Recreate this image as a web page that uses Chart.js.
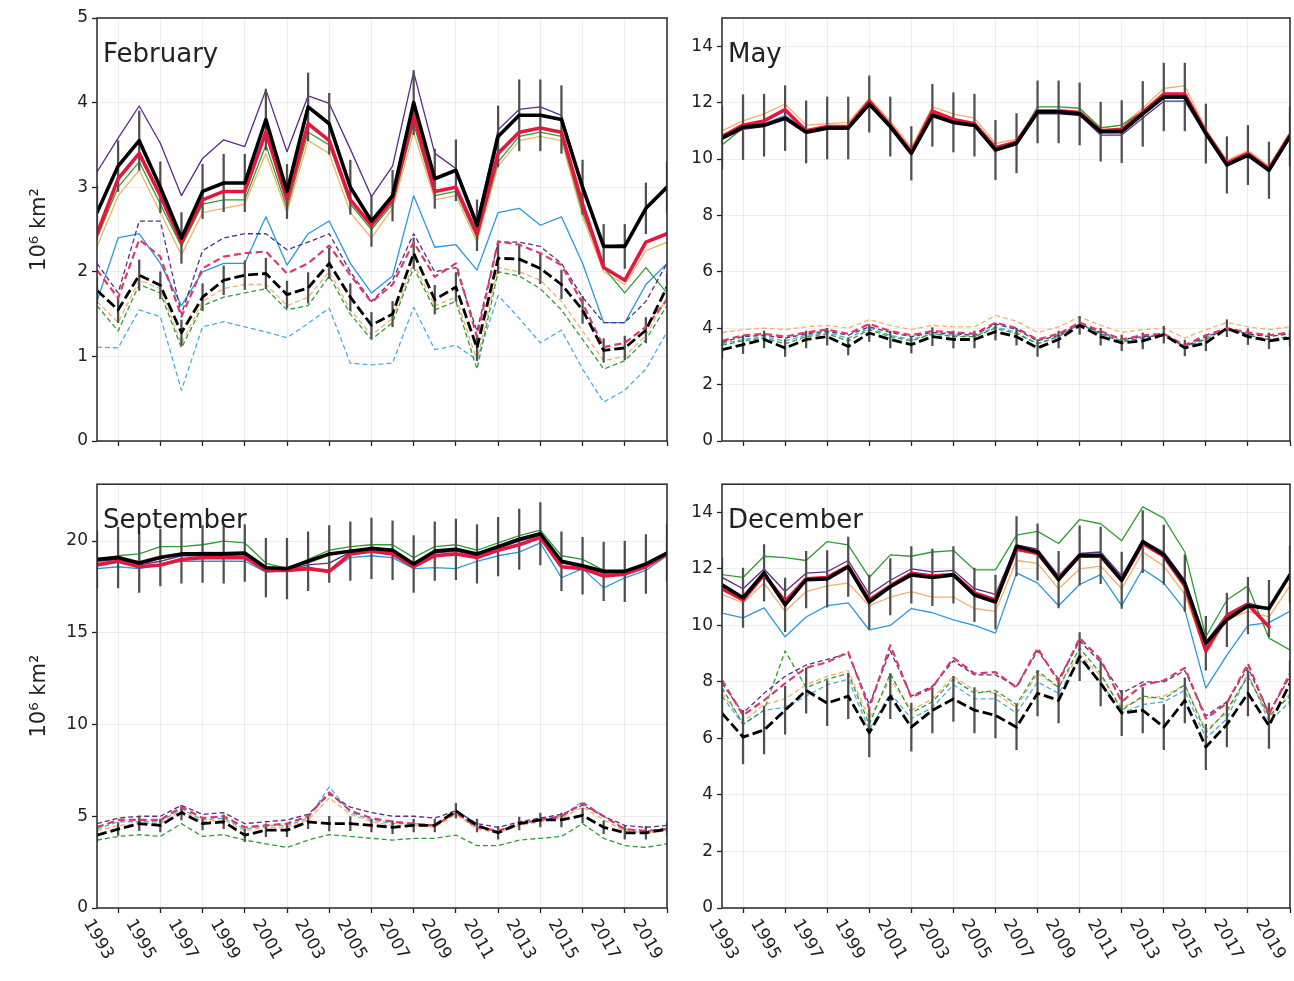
<!DOCTYPE html>
<html><head><meta charset="utf-8">
<script src="https://cdn.jsdelivr.net/npm/chart.js@4.4.1/dist/chart.umd.min.js"></script>
<style>
html,body{margin:0;padding:0;background:#fff;}
body{width:1294px;height:981px;position:relative;overflow:hidden;font-family:"DejaVu Sans",sans-serif;}
.panel{position:absolute;}
</style></head><body>
<div class="panel" style="left:0;top:0;width:680px;height:470px"><canvas id="cFeb"></canvas></div>
<div class="panel" style="left:680px;top:0;width:614px;height:470px"><canvas id="cMay"></canvas></div>
<div class="panel" style="left:0;top:470px;width:680px;height:511px"><canvas id="cSep"></canvas></div>
<div class="panel" style="left:680px;top:470px;width:614px;height:511px"><canvas id="cDec"></canvas></div>
<script>
// ---------------- DATA ----------------
const YEARS = [1993,1994,1995,1996,1997,1998,1999,2000,2001,2002,2003,2004,2005,2006,2007,2008,2009,2010,2011,2012,2013,2014,2015,2016,2017,2018,2019,2020];
const TICK_YEARS = [1993,1995,1997,1999,2001,2003,2005,2007,2009,2011,2013,2015,2017,2019];
const MONTHS = ["February","May","September","December"];
const Y_TITLE = "10\u2076 km\u00B2";

// February
const FEB_BLACK  = [2.70,3.25,3.55,3.00,2.40,2.95,3.05,3.05,3.80,2.95,3.95,3.75,3.00,2.60,2.90,4.00,3.10,3.20,2.55,3.60,3.85,3.85,3.80,3.00,2.30,2.30,2.75,3.00];
const FEB_RED    = [2.45,3.10,3.40,2.90,2.35,2.85,2.95,2.95,3.65,2.85,3.75,3.55,2.85,2.55,2.85,3.85,2.95,3.00,2.45,3.40,3.65,3.70,3.65,2.80,2.05,1.90,2.35,2.45];
const FEB_PURPLE = [3.18,3.58,3.96,3.52,2.90,3.34,3.56,3.48,4.15,3.42,4.08,3.99,3.45,2.89,3.25,4.36,3.40,3.22,2.60,3.68,3.92,3.95,3.85,3.02,2.30,2.32,2.75,3.02];
const FEB_GREEN  = [2.40,3.00,3.30,2.80,2.30,2.80,2.85,2.85,3.50,2.75,3.65,3.50,2.80,2.50,2.80,3.75,2.90,2.95,2.40,3.30,3.60,3.65,3.60,2.70,2.05,1.75,2.05,1.75];
const FEB_ORANGE = [2.30,2.90,3.20,2.70,2.20,2.70,2.75,2.80,3.40,2.70,3.55,3.40,2.70,2.40,2.75,3.65,2.85,2.90,2.35,3.25,3.55,3.60,3.55,2.65,2.00,1.85,2.25,2.35];
const FEB_BLUE   = [1.65,2.40,2.45,2.10,1.60,2.00,2.10,2.10,2.65,2.08,2.45,2.60,2.10,1.75,1.95,2.90,2.29,2.32,2.02,2.70,2.75,2.55,2.65,2.10,1.40,1.40,1.85,2.10];
const FEB_BLACK_D  = [1.78,1.55,1.96,1.84,1.28,1.70,1.90,1.96,1.98,1.73,1.81,2.10,1.70,1.37,1.50,2.22,1.67,1.82,1.10,2.16,2.15,2.04,1.85,1.55,1.07,1.10,1.31,1.82];
const FEB_RED_D    = [2.02,1.69,2.38,2.18,1.47,2.04,2.18,2.22,2.24,1.98,2.10,2.31,1.96,1.64,1.85,2.35,1.94,2.10,1.23,2.36,2.32,2.22,2.08,1.63,1.11,1.16,1.35,1.67];
const FEB_PURPLE_D = [2.10,1.75,2.60,2.60,1.50,2.25,2.40,2.45,2.45,2.26,2.35,2.45,2.00,1.65,1.90,2.45,2.00,2.05,1.30,2.35,2.35,2.30,2.10,1.70,1.40,1.40,1.65,2.10];
const FEB_GREEN_D  = [1.60,1.30,1.85,1.75,1.10,1.60,1.70,1.75,1.80,1.55,1.60,1.95,1.50,1.20,1.40,2.05,1.55,1.65,0.85,2.00,1.95,1.80,1.55,1.20,0.85,0.95,1.20,1.60];
const FEB_ORANGE_D = [1.65,1.40,1.90,1.80,1.15,1.65,1.80,1.85,1.85,1.60,1.70,2.00,1.55,1.25,1.45,2.10,1.60,1.70,0.95,2.05,2.00,1.90,1.65,1.30,0.95,1.00,1.25,1.70];
const FEB_BLUE_D   = [1.11,1.10,1.55,1.47,0.60,1.35,1.41,1.35,1.29,1.22,1.39,1.57,0.92,0.90,0.92,1.58,1.08,1.13,0.96,1.72,1.45,1.16,1.31,0.85,0.46,0.60,0.85,1.29];
const FEB_ERR   = [0.32,0.30,0.35,0.30,0.30,0.32,0.34,0.34,0.36,0.32,0.40,0.36,0.32,0.30,0.30,0.38,0.35,0.36,0.30,0.36,0.42,0.42,0.40,0.32,0.26,0.26,0.30,0.30];
const FEB_ERR_D = [0.16,0.15,0.18,0.16,0.15,0.16,0.17,0.17,0.18,0.16,0.18,0.18,0.16,0.15,0.15,0.18,0.17,0.17,0.15,0.18,0.18,0.18,0.17,0.16,0.14,0.14,0.15,0.16];

// May
const MAY_BLACK  = [10.74,11.13,11.20,11.45,10.96,11.10,11.10,11.95,11.15,10.20,11.55,11.30,11.20,10.32,10.56,11.67,11.67,11.60,10.97,10.97,11.60,12.20,12.20,10.90,9.79,10.14,9.60,10.80];
const MAY_RED    = [10.80,11.20,11.35,11.75,11.00,11.15,11.15,12.05,11.20,10.25,11.70,11.40,11.25,10.40,10.60,11.70,11.70,11.65,11.00,11.05,11.65,12.30,12.30,10.95,9.85,10.20,9.65,10.85];
const MAY_PURPLE = [10.70,11.05,11.15,11.40,10.90,11.05,11.05,11.90,11.10,10.15,11.50,11.25,11.15,10.30,10.50,11.60,11.60,11.55,10.85,10.85,11.45,12.05,12.05,10.85,9.75,10.10,9.55,10.75];
const MAY_GREEN  = [10.50,11.10,11.20,11.50,11.00,11.10,11.15,12.10,11.20,10.25,11.60,11.35,11.25,10.40,10.60,11.85,11.85,11.80,11.10,11.20,11.70,12.30,12.25,10.95,9.85,10.20,9.60,10.85];
const MAY_ORANGE = [11.00,11.35,11.60,11.95,11.20,11.25,11.30,12.15,11.35,10.40,11.85,11.60,11.45,10.55,10.70,11.75,11.75,11.70,11.10,11.20,11.80,12.50,12.60,11.05,9.95,10.30,9.75,10.95];
const MAY_BLUE   = [10.85,11.10,11.25,11.55,11.00,11.10,11.10,11.95,11.15,10.20,11.60,11.35,11.20,10.35,10.55,11.65,11.65,11.60,10.95,10.95,11.55,12.15,12.15,10.85,9.80,10.15,9.60,10.80];
const MAY_BLACK_D  = [3.24,3.42,3.60,3.30,3.60,3.70,3.35,3.83,3.60,3.42,3.70,3.60,3.60,3.88,3.70,3.30,3.60,4.10,3.70,3.48,3.55,3.77,3.30,3.48,4.00,3.70,3.55,3.65];
const MAY_RED_D    = [3.55,3.75,3.80,3.70,3.85,3.95,3.80,4.15,3.90,3.75,3.90,3.85,3.80,4.20,4.00,3.60,3.80,4.20,3.90,3.60,3.75,3.80,3.40,3.75,4.00,3.85,3.75,3.85];
const MAY_PURPLE_D = [3.50,3.70,3.75,3.65,3.80,3.90,3.75,4.05,3.85,3.70,3.85,3.80,3.75,4.15,3.95,3.55,3.75,4.15,3.85,3.60,3.70,3.75,3.35,3.70,3.95,3.80,3.70,3.80];
const MAY_GREEN_D  = [3.40,3.55,3.65,3.45,3.70,3.80,3.55,3.95,3.70,3.55,3.80,3.70,3.70,4.00,3.80,3.45,3.70,4.15,3.80,3.55,3.65,3.80,3.35,3.60,4.00,3.75,3.60,3.70];
const MAY_ORANGE_D = [3.85,3.95,4.00,3.95,4.05,4.10,4.00,4.30,4.10,3.95,4.10,4.05,4.05,4.45,4.25,3.85,4.05,4.40,4.10,3.85,3.95,4.00,3.65,3.95,4.20,4.05,3.95,4.05];
const MAY_BLUE_D   = [3.45,3.60,3.70,3.55,3.75,3.85,3.65,4.00,3.75,3.60,3.80,3.75,3.70,4.05,3.85,3.45,3.70,4.15,3.80,3.50,3.65,3.80,3.30,3.65,4.00,3.75,3.60,3.70];
const MAY_ERR   = [1.10,1.15,1.10,1.15,1.10,1.10,1.10,1.00,1.05,0.95,1.10,1.05,1.10,1.05,1.05,1.10,1.10,1.10,1.05,1.10,1.15,1.20,1.20,1.05,1.00,1.05,1.00,1.05];
const MAY_ERR_D = [0.30,0.32,0.30,0.30,0.30,0.30,0.30,0.30,0.30,0.30,0.32,0.30,0.30,0.30,0.30,0.30,0.30,0.32,0.30,0.28,0.28,0.30,0.28,0.28,0.30,0.28,0.28,0.28];

// September
const SEP_BLACK  = [19.00,19.10,18.80,19.10,19.30,19.30,19.30,19.35,18.55,18.50,18.90,19.30,19.45,19.60,19.50,18.75,19.45,19.55,19.30,19.70,20.10,20.40,18.90,18.65,18.35,18.35,18.75,19.35];
const SEP_RED    = [18.70,18.90,18.60,18.70,19.00,19.10,19.10,19.10,18.40,18.40,18.50,18.35,19.30,19.45,19.30,18.60,19.20,19.30,19.10,19.50,19.80,20.20,18.60,18.50,18.10,18.20,18.60,19.30];
const SEP_PURPLE = [18.90,19.00,18.70,18.90,19.20,19.20,19.20,19.25,18.50,18.45,18.70,18.80,19.40,19.50,19.40,18.70,19.35,19.45,19.20,19.60,20.00,20.30,18.80,18.60,18.25,18.30,18.70,19.30];
const SEP_GREEN  = [19.00,19.20,19.30,19.70,19.70,19.80,20.00,19.90,18.80,18.50,19.00,19.50,19.70,19.80,19.80,19.10,19.70,19.80,19.50,19.90,20.30,20.60,19.20,19.00,18.40,18.30,18.80,19.40];
const SEP_ORANGE = [18.80,19.00,18.90,19.20,19.30,19.40,19.40,19.40,18.60,18.50,18.80,19.20,19.50,19.60,19.50,18.80,19.40,19.50,19.30,19.70,20.10,20.40,18.90,18.70,18.30,18.30,18.70,19.30];
const SEP_BLUE   = [18.50,18.60,18.50,18.70,18.90,18.90,18.90,18.90,18.30,18.40,18.60,18.30,19.10,19.20,19.10,18.50,18.55,18.50,18.90,19.20,19.40,19.90,18.00,18.50,17.45,18.00,18.40,19.20];
const SEP_BLACK_D  = [3.97,4.30,4.60,4.50,5.20,4.60,4.70,3.97,4.24,4.24,4.70,4.60,4.60,4.50,4.40,4.50,4.50,5.30,4.50,4.10,4.60,4.80,4.80,5.05,4.40,4.10,4.10,4.30];
const SEP_RED_D    = [4.40,4.80,4.80,4.80,5.50,4.90,5.00,4.40,4.50,4.60,5.00,6.30,5.30,4.90,4.70,4.60,4.50,5.20,4.40,4.20,4.60,4.80,5.00,5.70,5.00,4.30,4.20,4.30];
const SEP_PURPLE_D = [4.60,4.90,5.00,5.00,5.60,5.10,5.20,4.60,4.70,4.80,5.10,6.20,5.50,5.20,5.00,5.00,4.90,5.30,4.60,4.40,4.70,4.90,5.10,5.60,5.00,4.50,4.40,4.50];
const SEP_GREEN_D  = [3.70,3.90,4.00,3.90,4.60,3.90,4.00,3.70,3.50,3.30,3.70,4.00,3.90,3.80,3.70,3.80,3.80,3.97,3.40,3.40,3.70,3.80,3.90,4.60,3.80,3.40,3.30,3.50];
const SEP_ORANGE_D = [4.20,4.50,4.60,4.60,5.30,4.70,4.80,4.20,4.40,4.40,4.80,6.00,5.10,4.70,4.50,4.50,4.40,5.10,4.30,4.10,4.50,4.70,4.90,5.50,4.80,4.20,4.10,4.20];
const SEP_BLUE_D   = [4.30,4.70,4.70,4.70,5.40,4.80,4.90,4.30,4.50,4.50,4.90,6.60,5.20,4.80,4.60,4.60,4.50,5.20,4.40,4.20,4.60,4.80,5.00,5.80,5.00,4.30,4.20,4.30];
const SEP_ERR   = [1.55,1.65,1.60,1.55,1.60,1.55,1.60,1.55,1.60,1.65,1.60,1.55,1.60,1.65,1.60,1.55,1.60,1.65,1.60,1.60,1.65,1.70,1.60,1.55,1.60,1.65,1.60,1.55];
const SEP_ERR_D = [0.35,0.35,0.38,0.35,0.40,0.35,0.38,0.35,0.35,0.35,0.38,0.40,0.38,0.35,0.35,0.35,0.35,0.40,0.35,0.35,0.35,0.38,0.38,0.40,0.35,0.35,0.35,0.35];

// December
const DEC_BLACK  = [11.44,10.98,11.86,10.73,11.62,11.65,12.08,10.83,11.37,11.79,11.70,11.79,11.08,10.83,12.80,12.60,11.62,12.48,12.48,11.60,12.97,12.50,11.50,9.37,10.20,10.70,10.60,11.80];
const DEC_RED    = [11.30,10.90,11.80,10.85,11.65,11.70,12.10,10.90,11.40,11.85,11.75,11.80,11.15,10.90,12.70,12.55,11.65,12.45,12.45,11.60,12.90,12.45,11.40,9.10,10.35,10.75,9.95,null];
const DEC_PURPLE = [11.70,11.30,12.00,11.20,11.85,11.90,12.30,11.10,11.60,12.00,11.90,11.95,11.30,11.10,12.85,12.70,11.75,12.55,12.60,11.75,13.00,12.60,11.60,9.40,10.40,10.80,10.60,11.80];
const DEC_GREEN  = [11.80,11.70,12.45,12.40,12.30,12.97,12.85,11.70,12.50,12.45,12.60,12.65,11.97,11.97,13.20,13.33,12.90,13.75,13.60,13.00,14.20,13.80,12.60,9.60,10.90,11.40,9.55,9.13];
const DEC_ORANGE = [11.10,10.80,11.50,10.50,11.20,11.40,11.50,10.70,11.00,11.20,11.00,11.00,10.60,10.50,12.30,12.20,11.30,12.00,12.10,11.30,12.60,12.10,11.10,9.00,10.20,10.50,10.30,11.40];
const DEC_BLUE   = [10.44,10.27,10.62,9.60,10.30,10.70,10.80,9.84,10.00,10.60,10.45,10.20,10.00,9.73,11.86,11.50,10.70,11.45,11.80,10.70,12.00,11.50,10.55,7.78,8.95,10.00,10.10,10.50];
const DEC_BLACK_D  = [6.90,6.05,6.30,7.00,7.70,7.25,7.50,6.20,7.50,6.40,7.00,7.40,7.00,6.82,6.40,7.60,7.35,8.90,7.95,6.90,7.00,6.40,7.35,5.70,6.50,7.60,6.45,7.95];
const DEC_RED_D    = [8.07,6.82,7.35,7.95,8.50,8.70,9.06,7.07,9.30,7.45,7.80,8.85,8.30,8.35,7.80,9.20,8.00,9.55,8.80,7.30,7.90,8.05,8.50,6.70,7.25,8.65,6.85,8.30];
const DEC_PURPLE_D = [7.95,6.90,7.60,8.20,8.60,8.80,9.00,7.20,9.10,7.50,7.85,8.75,8.25,8.25,7.85,9.10,8.10,9.45,8.70,7.60,8.00,8.00,8.40,6.80,7.30,8.50,6.90,8.20];
const DEC_GREEN_D  = [7.80,6.50,7.00,9.10,7.80,8.10,8.30,6.50,8.30,6.90,7.30,8.10,7.60,7.70,7.20,8.40,7.80,9.20,8.30,7.00,7.50,7.40,7.90,6.20,7.00,8.20,6.80,7.50];
const DEC_ORANGE_D = [7.60,6.60,7.20,7.40,7.90,8.20,8.40,6.70,8.10,7.00,7.40,8.20,7.70,7.60,7.10,8.30,7.80,9.00,8.20,7.10,7.40,7.50,7.90,6.30,6.90,8.30,6.70,7.60];
const DEC_BLUE_D   = [7.50,6.50,7.00,7.10,7.50,7.90,8.10,6.30,7.60,6.70,7.10,7.90,7.40,7.40,6.90,8.00,7.60,8.80,8.00,6.90,7.20,7.30,7.70,6.00,6.70,8.30,6.60,7.30];
const DEC_ERR   = [0.95,1.05,1.00,0.95,1.00,1.00,1.05,0.95,1.00,1.00,1.00,1.00,0.95,0.95,1.05,1.00,1.00,1.05,1.00,1.00,1.10,1.05,1.00,0.95,0.95,1.00,1.00,1.00];
const DEC_ERR_D = [0.85,0.95,0.85,0.85,0.80,0.80,0.80,0.85,0.80,0.85,0.80,0.80,0.80,0.80,0.80,0.80,0.80,0.85,0.80,0.80,0.80,0.80,0.80,0.80,0.80,0.80,0.80,0.80];

// ---------------- STYLE ----------------
const C = {black:'#000000', red:'#e3173f', purple:'#5b2a86', green:'#2f9e35', orange:'#f4b06a', blue:'#2a98dc', redD:'#dc3a6a', blueD:'#49aee6', err:'#505050'};
const FONT = '"DejaVu Sans", sans-serif';

function pts(arr){ return YEARS.map((yr,i)=>({x:yr, y:arr[i]})); }
function line(arr, color, width, dash, order){
  return {type:'line', data:pts(arr), borderColor:color, borderWidth:width, borderDash:dash||[],
    pointRadius:0, pointHoverRadius:0, fill:false, tension:0, order:order, spanGaps:false,
    borderJoinStyle:'round', borderCapStyle: dash ? 'butt' : 'round'};
}
function errbars(center, err, order){
  return {type:'bar', data:YEARS.map((yr,i)=>({x:yr, y:[center[i]-err[i], center[i]+err[i]]})),
    backgroundColor:C.err, borderWidth:0, barThickness:1.6, grouped:false, order:order};
}
function buildSets(S){
  return [
    line(S.blue, C.blue, 1.3, null, 9),
    line(S.orange, C.orange, 1.3, null, 8),
    line(S.green, C.green, 1.3, null, 7),
    line(S.purple, C.purple, 1.3, null, 6),
    line(S.blueD, C.blueD, 1.3, [5,3], 9),
    line(S.orangeD, C.orange, 1.3, [5,3], 8),
    line(S.greenD, C.green, 1.3, [5,3], 7),
    line(S.purpleD, C.purple, 1.3, [5,3], 6),
    errbars(S.black, S.err, 5),
    errbars(S.blackD, S.errD, 5),
    line(S.redD, C.redD, 2.2, [7,4], 3),
    line(S.red, C.red, 3.6, null, 2),
    line(S.blackD, C.black, 2.8, [10,4], 1),
    line(S.black, C.black, 3.6, null, 0)
  ];
}

const decor = {
  id:'decor',
  afterDraw(chart, args, o){
    const ctx = chart.ctx, a = chart.chartArea;
    ctx.save();
    ctx.strokeStyle = '#333'; ctx.lineWidth = 1.6;
    ctx.strokeRect(a.left, a.top, a.right - a.left, a.bottom - a.top);
    ctx.fillStyle = '#222';
    ctx.font = '26px ' + FONT;
    ctx.textAlign = 'left'; ctx.textBaseline = 'alphabetic';
    ctx.fillText(o.month, a.left + 6, a.top + 44);
    if (o.yTitle){
      ctx.save();
      ctx.translate(40, (a.top + a.bottom) / 2);
      ctx.rotate(-Math.PI/2);
      ctx.font = '21px ' + FONT;
      ctx.textAlign = 'center'; ctx.textBaseline = 'middle';
      ctx.fillText(Y_TITLE, 0, 0);
      ctx.restore();
    }
    if (o.xLabels){
      const xs = chart.scales.x;
      const th = Math.PI/3;
      ctx.font = '17px ' + FONT;
      ctx.textAlign = 'left'; ctx.textBaseline = 'top';
      const h = 17*1.15;
      TICK_YEARS.forEach(yr=>{
        const lbl = String(yr);
        const w = ctx.measureText(lbl).width;
        const px = xs.getPixelForValue(yr);
        const x0 = px - (w*Math.cos(th))/2 + (h*Math.sin(th))/2;
        ctx.save();
        ctx.translate(x0, a.bottom + 8.5);
        ctx.rotate(th);
        ctx.fillText(lbl, 0, 0);
        ctx.restore();
      });
    }
    ctx.restore();
  }
};

function makePanel(id, S, P){
  new Chart(document.getElementById(id), {
    type:'line',
    data:{datasets: buildSets(S)},
    options:{
      responsive:true, maintainAspectRatio:false, animation:false,
      layout:{padding:{top:P.padTop, right:P.padRight, left:0, bottom:0}},
      plugins:{legend:{display:false}, tooltip:{enabled:false}, decor:{month:P.month, yTitle:P.yTitle, xLabels:P.xLabels}},
      scales:{
        x:{type:'linear', min:1993, max:2020, offset:false,
          afterBuildTicks:(sc)=>{ sc.ticks = TICK_YEARS.map(v=>({value:v})); },
          afterFit:(sc)=>{ sc.height = P.xH; },
          ticks:{display:false},
          border:{display:false},
          grid:{color:'rgba(0,0,0,0.07)', lineWidth:1, drawTicks:true, tickLength:5, tickColor:'#222', tickWidth:1.3}
        },
        y:{type:'linear', min:0, max:P.yMax,
          afterFit:(sc)=>{ sc.width = P.yW; },
          ticks:{stepSize:P.yStep, includeBounds:false, padding:4, color:'#222', font:{family:FONT, size:17}},
          border:{display:false},
          grid:{color:'rgba(0,0,0,0.07)', lineWidth:1, drawTicks:true, tickLength:5, tickColor:'#222', tickWidth:1.3}
        }
      }
    },
    plugins:[decor]
  });
}

makePanel('cFeb', {black:FEB_BLACK, red:FEB_RED, purple:FEB_PURPLE, green:FEB_GREEN, orange:FEB_ORANGE, blue:FEB_BLUE,
  blackD:FEB_BLACK_D, redD:FEB_RED_D, purpleD:FEB_PURPLE_D, greenD:FEB_GREEN_D, orangeD:FEB_ORANGE_D, blueD:FEB_BLUE_D, err:FEB_ERR, errD:FEB_ERR_D},
  {padTop:18, padRight:13, yW:97, xH:29, yMax:5, yStep:1, month:MONTHS[0], yTitle:true, xLabels:false});
makePanel('cMay', {black:MAY_BLACK, red:MAY_RED, purple:MAY_PURPLE, green:MAY_GREEN, orange:MAY_ORANGE, blue:MAY_BLUE,
  blackD:MAY_BLACK_D, redD:MAY_RED_D, purpleD:MAY_PURPLE_D, greenD:MAY_GREEN_D, orangeD:MAY_ORANGE_D, blueD:MAY_BLUE_D, err:MAY_ERR, errD:MAY_ERR_D},
  {padTop:18, padRight:4, yW:42, xH:29, yMax:15, yStep:2, month:MONTHS[1], yTitle:false, xLabels:false});
makePanel('cSep', {black:SEP_BLACK, red:SEP_RED, purple:SEP_PURPLE, green:SEP_GREEN, orange:SEP_ORANGE, blue:SEP_BLUE,
  blackD:SEP_BLACK_D, redD:SEP_RED_D, purpleD:SEP_PURPLE_D, greenD:SEP_GREEN_D, orangeD:SEP_ORANGE_D, blueD:SEP_BLUE_D, err:SEP_ERR, errD:SEP_ERR_D},
  {padTop:13, padRight:13, yW:97, xH:73, yMax:23.1, yStep:5, month:MONTHS[2], yTitle:true, xLabels:true});
makePanel('cDec', {black:DEC_BLACK, red:DEC_RED, purple:DEC_PURPLE, green:DEC_GREEN, orange:DEC_ORANGE, blue:DEC_BLUE,
  blackD:DEC_BLACK_D, redD:DEC_RED_D, purpleD:DEC_PURPLE_D, greenD:DEC_GREEN_D, orangeD:DEC_ORANGE_D, blueD:DEC_BLUE_D, err:DEC_ERR, errD:DEC_ERR_D},
  {padTop:13, padRight:4, yW:42, xH:73, yMax:15, yStep:2, month:MONTHS[3], yTitle:false, xLabels:true});
</script>
</body></html>
